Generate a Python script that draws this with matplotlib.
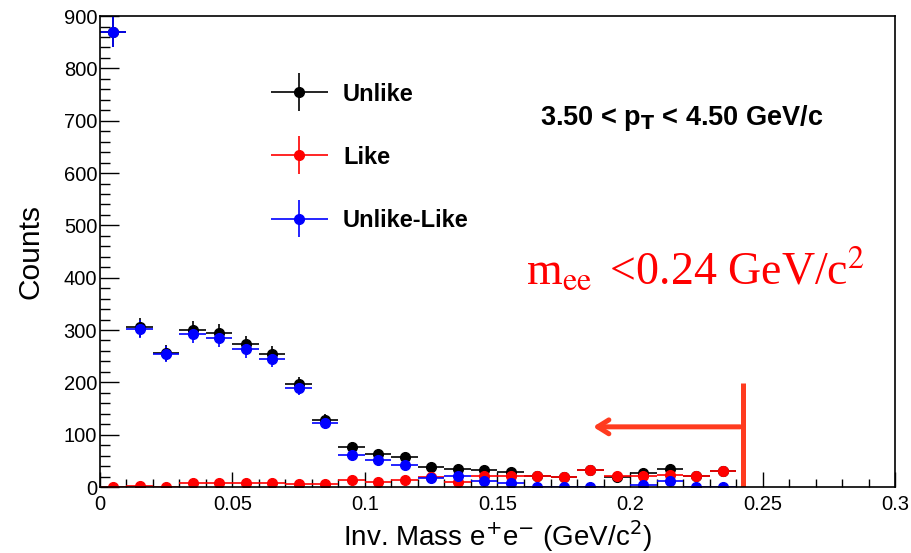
import matplotlib.pyplot as plt
from matplotlib.ticker import MultipleLocator
from matplotlib.legend_handler import HandlerErrorbar
import numpy as np

# bin centres of the e+e- invariant mass histogram (GeV/c^2)
mass = [0.005, 0.015, 0.025, 0.035, 0.045, 0.055, 0.065, 0.075, 0.085, 0.095,
        0.105, 0.115, 0.125, 0.135, 0.145, 0.155, 0.165, 0.175, 0.185, 0.195,
        0.205, 0.215, 0.225, 0.235]

# counts
unlike = [870, 305, 256, 300, 295, 273, 254, 196, 129, 77,
          63, 58, 39, 34, 32, 29, 22, 19, 33, 20,
          27, 35, 21, 31]
like = [0, 2, 1, 7, 8, 8, 8, 6, 6, 13,
        10, 13, 20, 10, 21, 21, 22, 19, 33, 22,
        21, 23, 21, 31]
diff = [870, 302, 254, 292, 285, 264, 245, 190, 123, 61,
        52, 42, 17, 21, 11, 7, 0, 0, 0, np.nan,
        4, 11, 0, 0]

bin_half = 0.005
plt.rcParams['font.family'] = ['Liberation Sans', 'DejaVu Sans']

fig = plt.figure(figsize=(9.12, 5.53), dpi=100)
ax = fig.add_axes([0.1096, 0.1193, 0.8718, 0.8517])

#errors: poisson for raw counts, combined for the subtraction
err_unlike = np.sqrt(unlike)
err_like = np.sqrt(like)
err_diff = np.sqrt(np.array(unlike) + np.array(like))

style = dict(fmt='o', markersize=7, elinewidth=1.2, capsize=0)
h1 = ax.errorbar(mass, unlike, xerr=bin_half, yerr=err_unlike, color='black', **style)
h2 = ax.errorbar(mass, like, xerr=bin_half, yerr=err_like, color='#ff0000', **style)
h3 = ax.errorbar(mass, diff, xerr=bin_half, yerr=err_diff, color='#0000ff', **style)

ax.set_xlim(0, 0.3)
ax.set_ylim(0, 900)
ax.xaxis.set_major_locator(MultipleLocator(0.05))
ax.xaxis.set_minor_locator(MultipleLocator(0.01))
ax.yaxis.set_major_locator(MultipleLocator(100))
ax.yaxis.set_minor_locator(MultipleLocator(20))
ax.set_xticks(np.arange(0, 0.301, 0.05))
ax.set_xticklabels(['0', '0.05', '0.1', '0.15', '0.2', '0.25', '0.3'])
ax.tick_params(axis='both', which='both', direction='in', labelsize=14.5, width=1)
ax.tick_params(axis='y', which='major', length=14, pad=2)
ax.tick_params(axis='y', which='minor', length=7)
ax.tick_params(axis='x', which='major', length=11, pad=6)
ax.tick_params(axis='x', which='minor', length=6)
for sp in ax.spines.values():
    sp.set_linewidth(1.2)

ax.set_ylabel('Counts', fontsize=21.5, labelpad=14)
ax.set_xlabel('Inv. Mass e$^{+}$e$^{-}$ (GeV/c$^{2}$)', fontsize=20, labelpad=3)

ebar_handler = HandlerErrorbar(xerr_size=1.2, yerr_size=0.8)
leg = ax.legend([h1, h2, h3], ['Unlike', 'Like', 'Unlike-Like'],
                loc='upper left', bbox_to_anchor=(0.187, 0.904), frameon=False,
                handlelength=2.5, labelspacing=1.70, handletextpad=0.6,
                handler_map={type(h1): ebar_handler},
                prop={'weight': 'bold', 'size': 17})
for line in leg.get_lines():
    line.set_markersize(6)

ax.text(0.553, 0.784, r'3.50 < p$_\mathbf{T}$ < 4.50 GeV/c', transform=ax.transAxes,
        fontsize=19.5, fontweight='bold', va='center')
ax.text(0.5355, 0.46, r'm$_{\rm ee}\,$ <0.24 GeV/c$^2$', transform=ax.transAxes,
        fontsize=33, color='#ff0000', family='Liberation Serif',
        math_fontfamily='stix', va='center')

# mass cut marker
cut = 0.2426
ax.plot([cut, cut], [0, 199], color='#ff3b1f', lw=3.6, solid_capstyle='butt')
ax.annotate('', xy=(0.185, 115), xytext=(cut, 115),
            arrowprops=dict(arrowstyle='->,head_length=0.8,head_width=0.5',
                            color='#ff3b1f', lw=3.6))

fig.savefig('out.png', dpi=100)
